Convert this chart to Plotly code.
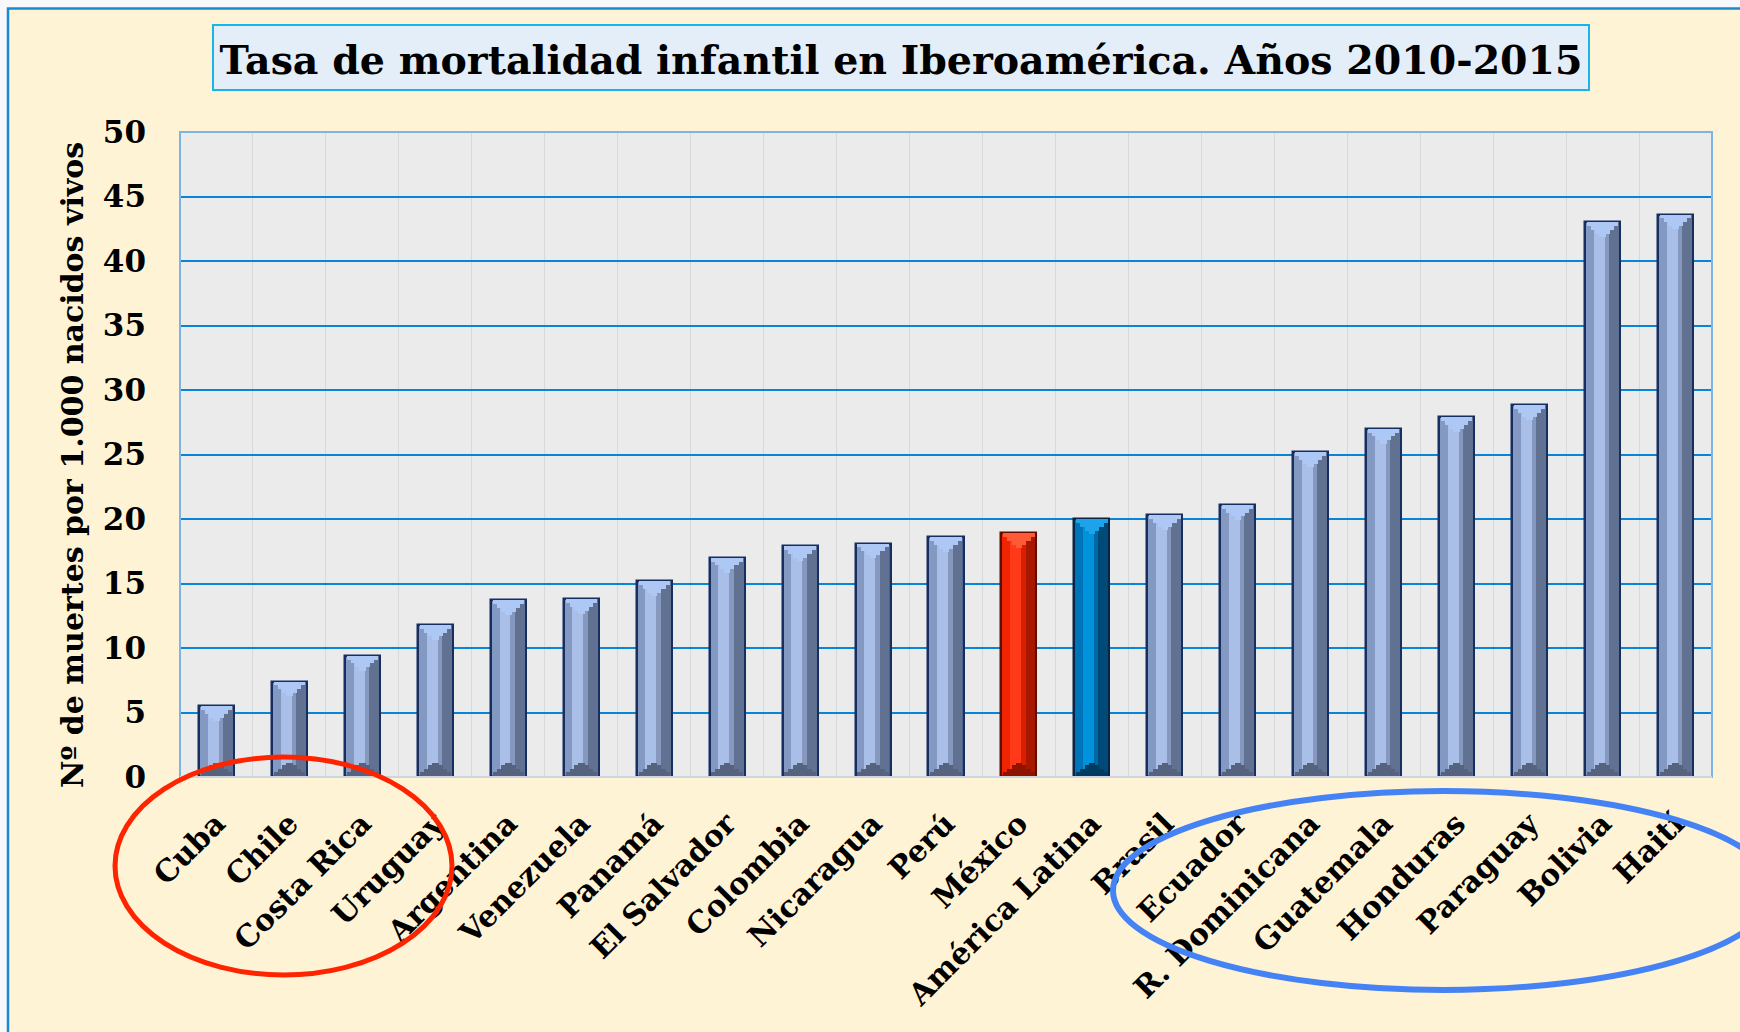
import plotly.graph_objects as go

# ---------------- data ----------------
countries = ["Cuba", "Chile", "Costa Rica", "Uruguay", "Argentina", "Venezuela",
             "Panamá", "El Salvador", "Colombia", "Nicaragua", "Perú", "México",
             "América Latina", "Brasil", "Ecuador", "R. Dominicana", "Guatemala",
             "Honduras", "Paraguay", "Bolivia", "Haití"]
rates = [5.5, 7.4, 9.4, 11.8, 13.7, 13.8, 15.2, 17.0, 17.9, 18.1, 18.6, 18.9,
         20.0, 20.3, 21.1, 25.2, 27.0, 27.9, 28.8, 43.0, 43.6]
y_ticks = [0, 5, 10, 15, 20, 25, 30, 35, 40, 45, 50]

title_text = "Tasa de mortalidad infantil en Iberoamérica. Años 2010-2015"
y_title = "Nº de muertes por 1.000 nacidos vivos"

# ---------------- styles / layout ----------------
W, H = 1740, 1032
L, R, T, B = 180, 1712, 132, 777          # plot area in pixels
FONT = "DejaVu Serif"

def px_x(px):
    return (px - L) / (R - L)

def px_y(py):
    return (B - py) / (B - T)

palette = {
    "default": dict(base="#8399C1", light="#A9BFE7", mid="#8698BD", dark="#617191",
                    edge="#172E60", top="#AEC8F6", bottom="#56637F"),
    "México": dict(base="#F02400", light="#FF3A18", mid="#D82000", dark="#A81800",
                   edge="#5E1000", top="#FF5A38", bottom="#8E1400"),
    "América Latina": dict(base="#0074B8", light="#0092DA", mid="#0068A4", dark="#004A7A",
                           edge="#0A2446", top="#1EA2EA", bottom="#003C62"),
}

def colors(key):
    return [palette.get(c, palette["default"])[key] for c in countries]

BW = 0.48
fig = go.Figure()
# base bar with outline
fig.add_trace(go.Bar(x=countries, y=rates, width=BW, offset=-BW / 2,
                     marker=dict(color=colors("base"), line=dict(color=colors("edge"), width=2.5)),
                     hoverinfo="x+y", showlegend=False))
# vertical shading stripes (bevelled 3D look)
for off, wd, key in [(-0.12, 0.15, "light"), (0.03, 0.06, "mid"), (0.09, 0.135, "dark")]:
    fig.add_trace(go.Bar(x=countries, y=rates, width=wd, offset=off,
                         marker=dict(color=colors(key), line=dict(width=0)),
                         hoverinfo="skip", showlegend=False))
# top bevel (light triangle built from stepped slices)
for wd, depth in [(0.43, 0.3), (0.32, 0.6), (0.2, 0.9), (0.09, 1.15)]:
    fig.add_trace(go.Bar(x=countries, y=[depth] * len(rates), base=[v - depth for v in rates],
                         width=wd, offset=-wd / 2,
                         marker=dict(color=colors("top"), line=dict(width=0)),
                         hoverinfo="skip", showlegend=False))
# bottom bevel (darker)
for wd, depth in [(0.43, 0.35), (0.32, 0.65), (0.2, 0.9), (0.09, 1.05)]:
    fig.add_trace(go.Bar(x=countries, y=[depth] * len(rates), base=0,
                         width=wd, offset=-wd / 2,
                         marker=dict(color=colors("bottom"), line=dict(width=0)),
                         hoverinfo="skip", showlegend=False))

shapes = [
    # chart frame (cream)
    dict(type="rect", xref="paper", yref="paper", x0=px_x(8), x1=px_x(1800),
         y0=px_y(1100), y1=px_y(8.5),
         fillcolor="#FFF3D6", line=dict(color="#1A8AD0", width=2.5), layer="below"),
    # title box
    dict(type="rect", xref="paper", yref="paper", x0=px_x(213), x1=px_x(1589),
         y0=px_y(90), y1=px_y(25),
         fillcolor="#E4EEF9", line=dict(color="#19B5E8", width=2), layer="below"),
    # plot background
    dict(type="rect", xref="x domain", yref="y domain", x0=0, x1=1, y0=0, y1=1,
         fillcolor="#EBEBEB", line=dict(width=0), layer="below"),
    # plot frame
    dict(type="rect", xref="x domain", yref="y domain", x0=0, x1=1, y0=0, y1=1,
         line=dict(color="#7EB4E4", width=2), layer="above"),
    dict(type="line", xref="x domain", yref="y domain", x0=0, x1=1, y0=0, y1=0,
         line=dict(color="#CDD6E0", width=2), layer="above"),
    # highlight ellipses
    dict(type="circle", xref="paper", yref="paper", x0=px_x(115), x1=px_x(452),
         y0=px_y(975), y1=px_y(757), line=dict(color="#FF2400", width=5), layer="above"),
    dict(type="circle", xref="paper", yref="paper", x0=px_x(1113), x1=px_x(1774),
         y0=px_y(990), y1=px_y(791), line=dict(color="#4583F5", width=6), layer="above"),
]

fig.update_layout(
    width=W, height=H, autosize=False,
    margin=dict(l=L, r=W - R, t=T, b=H - B, pad=0),
    paper_bgcolor="#F6F8FC", plot_bgcolor="#EBEBEB",
    barmode="overlay", bargap=0,
    font=dict(family=FONT, color="black"),
    shapes=shapes,
    title=dict(text=title_text, x=901 / W, xref="container", xanchor="center",
               y=1 - 60 / H, yref="container", yanchor="middle",
               font=dict(family=FONT, size=39.5, color="black", weight="bold")),
    xaxis=dict(type="category", categoryorder="array", categoryarray=countries,
               range=[-0.5, len(countries) - 0.5], tickson="boundaries",
               showgrid=True, gridcolor="#D9D9D9", gridwidth=1, ticks="",
               tickangle=-45, ticklabelstandoff=22, showline=False, zeroline=False,
               tickfont=dict(family=FONT, size=30, color="black", weight="bold")),
    yaxis=dict(range=[0, 50], tickvals=y_ticks, showgrid=True, gridcolor="#0A84D4",
               gridwidth=2, zeroline=False, showline=False, ticks="",
               ticklabelstandoff=33,
               tickfont=dict(family=FONT, size=31, color="black", weight="bold")),
)
# y-axis title placed as a rotated annotation to match the reference position
fig.add_annotation(text=y_title, xref="paper", yref="paper", x=px_x(72), y=px_y(465),
                   xanchor="center", yanchor="middle", textangle=-90, showarrow=False,
                   font=dict(family=FONT, size=30, color="black", weight="bold"))

fig.write_html("out.html", config={"displayModeBar": False},
               post_script="document.body.style.margin='0px';")
